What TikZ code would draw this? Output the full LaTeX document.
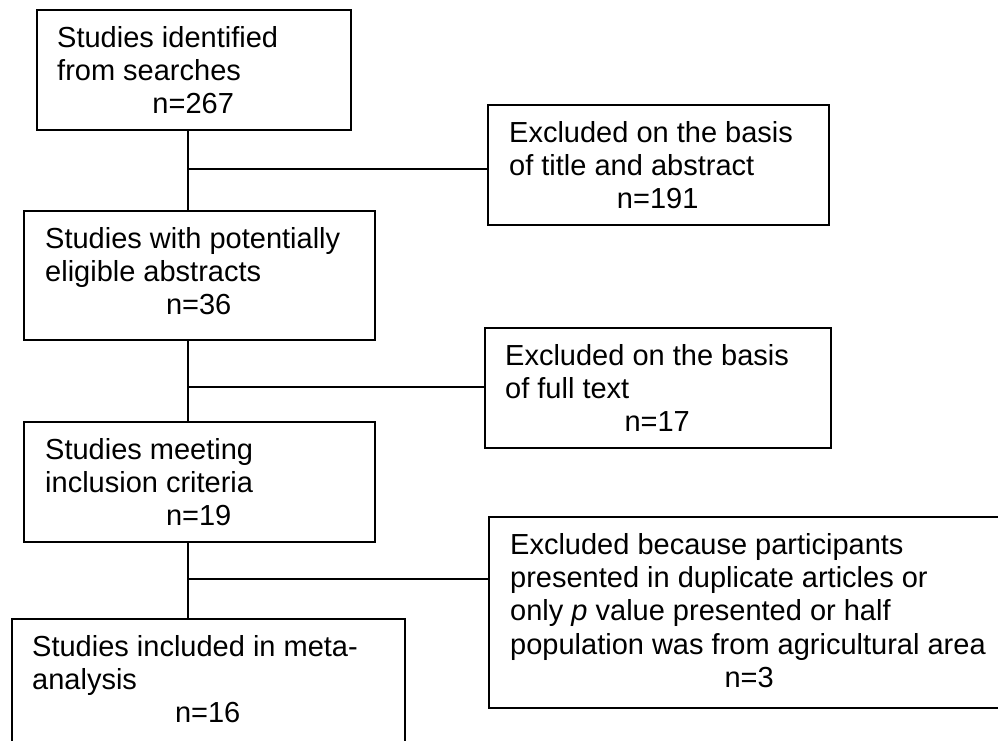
\documentclass[tikz,border=0pt]{standalone}
\usepackage{fontspec}
\setmainfont{Liberation Sans}
\begin{document}
\begin{tikzpicture}[x=1pt,y=-1pt,
  box/.style={draw, line width=1.6pt, inner sep=0pt, anchor=north west},
  txt/.style={anchor=north west, inner sep=0pt, align=left, font=\fontsize{29}{33.3}\selectfont},
  link/.style={line width=1.6pt}]
\useasboundingbox (0,0) rectangle (998,740);
\clip (0,0) rectangle (998,740);
% boxes
\node[box, minimum width=314pt, minimum height=120pt] (b1) at (36,9) {};
\node[box, minimum width=341pt, minimum height=120pt] (e1) at (487,104) {};
\node[box, minimum width=351pt, minimum height=129pt] (b2) at (23,210) {};
\node[box, minimum width=346pt, minimum height=120pt] (e2) at (484,327) {};
\node[box, minimum width=351pt, minimum height=120pt] (b3) at (23,421) {};
\node[box, minimum width=522pt, minimum height=191pt] (e3) at (488,516) {};
\node[box, minimum width=393pt, minimum height=170pt] (b4) at (11,618) {};
% texts
\node[txt] (t1) at (57,23.7) {\strut Studies identified\\from searches\\\makebox[272pt]{n=267}};
\node[txt] (te1) at (509,118.7) {\strut Excluded on the basis\\of title and abstract\\\makebox[297pt]{n=191}};
\node[txt] (t2) at (45,224.7) {\strut Studies with potentially\\eligible abstracts\\\makebox[307pt]{n=36}};
\node[txt] (te2) at (505,341.7) {\strut Excluded on the basis\\of full text\\\makebox[304pt]{n=17}};
\node[txt] (t3) at (45,435.7) {\strut Studies meeting\\inclusion criteria\\\makebox[307pt]{n=19}};
\node[txt] (te3) at (510,530.7) {\strut Excluded because participants\\presented in duplicate articles or\\only \textit{p} value presented or half\\population was from agricultural area\\\makebox[478pt]{n=3}};
\node[txt] (t4) at (32,632.7) {\strut Studies included in meta-\\analysis\\\makebox[351pt]{n=16}};
% junctions
\coordinate (j1) at (188,169);
\coordinate (j2) at (188,387);
\coordinate (j3) at (188,579);
% connectors
\draw[link] (b1.south -| j1) -- (b2.north -| j1);
\draw[link] (j1) -- (e1.west |- j1);
\draw[link] (b2.south -| j2) -- (b3.north -| j2);
\draw[link] (j2) -- (e2.west |- j2);
\draw[link] (b3.south -| j3) -- (b4.north -| j3);
\draw[link] (j3) -- (e3.west |- j3);
\end{tikzpicture}
\end{document}
